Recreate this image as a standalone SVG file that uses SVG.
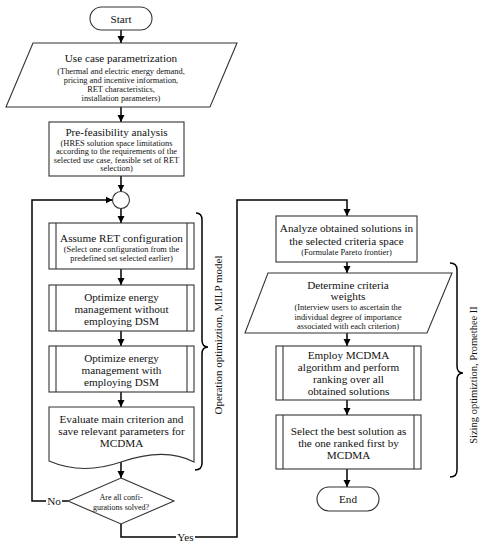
<svg xmlns="http://www.w3.org/2000/svg" width="488" height="550" viewBox="0 0 488 550" font-family="'Liberation Serif', 'Times New Roman', serif">
<defs>
<marker id="ah" markerWidth="8" markerHeight="8" refX="7" refY="4" orient="auto" markerUnits="userSpaceOnUse">
<path d="M0,0.5 L7,4 L0,7.5 Z" fill="#000"/>
</marker>
<style>
.sh{fill:#fff;stroke:#333;stroke-width:1.1}
.ln{fill:none;stroke:#000;stroke-width:1.5}
.ar{fill:none;stroke:#000;stroke-width:1.5;marker-end:url(#ah)}
.br{fill:none;stroke:#000;stroke-width:1.5}
text{font-family:'Liberation Serif','Times New Roman',serif;font-weight:normal;fill:#111;text-anchor:middle}
.t{font-size:11.2px}
.s{font-size:8.4px}
.d{font-size:8px}
.v{font-size:11px;dominant-baseline:central}
.v2{font-size:10.5px;dominant-baseline:central}
</style>
</defs>
<rect width="488" height="550" fill="#fff"/>

<g id="connectors">
<path class="ar" d="M121,30 V43"/>
<path class="ar" d="M121,107 V122"/>
<path class="ar" d="M121,176 V191.5"/>
<path class="ar" d="M121,208.5 V223"/>
<path class="ar" d="M121,269 V285"/>
<path class="ar" d="M121,331 V346"/>
<path class="ar" d="M121,392 V407"/>
<path class="ar" d="M121,462 V478"/>
<path class="ln" d="M68,501 H62"/>
<path class="ar" d="M46,501 H32 V200 H112.5"/>
<path class="ln" d="M121,524 V537 H176"/>
<path class="ar" d="M195,537 H237 V200 H347 V216"/>
<path class="ar" d="M347,262 V273"/>
<path class="ar" d="M347,333 V346"/>
<path class="ar" d="M347,400 V415"/>
<path class="ar" d="M347,469 V487"/>
<text class="t" x="54" y="505">No</text>
<text class="t" x="185.5" y="541">Yes</text>
</g>

<g id="start">
<rect class="sh" x="90" y="7" width="62" height="23" rx="11.5"/>
<text class="t" x="121" y="22.5">Start</text>
</g>

<g id="use-case">
<polygon class="sh" points="33,43 237,43 210,107 6,107"/>
<text class="t" x="121" y="62">Use case parametrization</text>
<text class="s" x="121" y="74">(Thermal and electric energy demand,</text>
<text class="s" x="121" y="83">pricing and incentive information,</text>
<text class="s" x="121" y="92">RET characteristics,</text>
<text class="s" x="121" y="101">installation parameters)</text>
</g>

<g id="pre-feasibility">
<rect class="sh" x="49" y="122" width="135" height="54"/>
<text class="t" x="116.5" y="136">Pre-feasibility analysis</text>
<text class="s" x="116.5" y="145.5">(HRES solution space limitations</text>
<text class="s" x="116.5" y="154">according to the requirements of the</text>
<text class="s" x="116.5" y="162.5">selected use case, feasible set of RET</text>
<text class="s" x="116.5" y="171">selection)</text>
</g>

<g id="junction">
<circle class="sh" cx="121" cy="200" r="8.5"/>
</g>

<g id="assume-ret">
<rect class="sh" x="49" y="223" width="145" height="46"/>
<path class="sh" d="M56,223 V269 M187,223 V269"/>
<text class="t" x="121.5" y="242">Assume RET configuration</text>
<text class="s" x="121.5" y="252">(Select one configuration from the</text>
<text class="s" x="121.5" y="261">predefined set selected earlier)</text>
</g>

<g id="opt-without-dsm">
<rect class="sh" x="49" y="285" width="145" height="46"/>
<path class="sh" d="M56,285 V331 M187,285 V331"/>
<text class="t" x="121.5" y="301">Optimize energy</text>
<text class="t" x="121.5" y="313">management without</text>
<text class="t" x="121.5" y="325">employing DSM</text>
</g>

<g id="opt-with-dsm">
<rect class="sh" x="49" y="346" width="145" height="46"/>
<path class="sh" d="M56,346 V392 M187,346 V392"/>
<text class="t" x="121.5" y="362">Optimize energy</text>
<text class="t" x="121.5" y="374">management with</text>
<text class="t" x="121.5" y="386">employing DSM</text>
</g>

<g id="evaluate">
<path class="sh" d="M49,407 H194 V462 C175,452 150,452 121,462 C95,471 70,470 49,461 Z"/>
<text class="t" x="121.5" y="423">Evaluate main criterion and</text>
<text class="t" x="121.5" y="435">save relevant parameters for</text>
<text class="t" x="121.5" y="447">MCDMA</text>
</g>

<g id="decision">
<polygon class="sh" points="121,478 174,501 121,524 68,501"/>
<text class="d" x="121" y="500">Are all confi-</text>
<text class="d" x="121" y="510">gurations solved?</text>
</g>

<g id="operation-brace">
<path class="br" d="M196,213 Q202,213 202,220 V340 Q202,347 208,347 Q202,347 202,354 V463 Q202,470 195,470"/>
<text class="v" transform="translate(218,335) rotate(-90)">Operation optimiztion, MILP model</text>
</g>

<g id="analyze">
<rect class="sh" x="276" y="216" width="141" height="46"/>
<text class="t" x="346.5" y="232">Analyze obtained solutions in</text>
<text class="t" x="346.5" y="245">the selected criteria space</text>
<text class="s" x="346.5" y="255">(Formulate Pareto frontier)</text>
</g>

<g id="weights">
<polygon class="sh" points="268,273 452,273 427,333 245,333"/>
<text class="t" x="348" y="289">Determine criteria</text>
<text class="t" x="348" y="300">weights</text>
<text class="s" x="348" y="310">(Interview users to ascertain the</text>
<text class="s" x="348" y="319.5">individual degree of importance</text>
<text class="s" x="348" y="329">associated with each criterion)</text>
</g>

<g id="employ-mcdma">
<rect class="sh" x="276" y="346" width="145" height="54"/>
<path class="sh" d="M283,346 V400 M414,346 V400"/>
<text class="t" x="348.5" y="359">Employ MCDMA</text>
<text class="t" x="348.5" y="371">algorithm and perform</text>
<text class="t" x="348.5" y="383">ranking over all</text>
<text class="t" x="348.5" y="395">obtained solutions</text>
</g>

<g id="select-best">
<rect class="sh" x="276" y="415" width="145" height="54"/>
<path class="sh" d="M283,415 V469 M414,415 V469"/>
<text class="t" x="348.5" y="435">Select the best solution as</text>
<text class="t" x="348.5" y="447">the one ranked first by</text>
<text class="t" x="348.5" y="459">MCDMA</text>
</g>

<g id="end">
<rect class="sh" x="317" y="487" width="62" height="24" rx="12"/>
<text class="t" x="348" y="503">End</text>
</g>

<g id="sizing-brace">
<path class="br" d="M450,263 Q457,263 457,270 V366 Q457,373 463,373 Q457,373 457,380 V470 Q457,477 450,477"/>
<text class="v2" transform="translate(473,375) rotate(-90)">Sizing optimiztion, Promethee II</text>
</g>
</svg>
